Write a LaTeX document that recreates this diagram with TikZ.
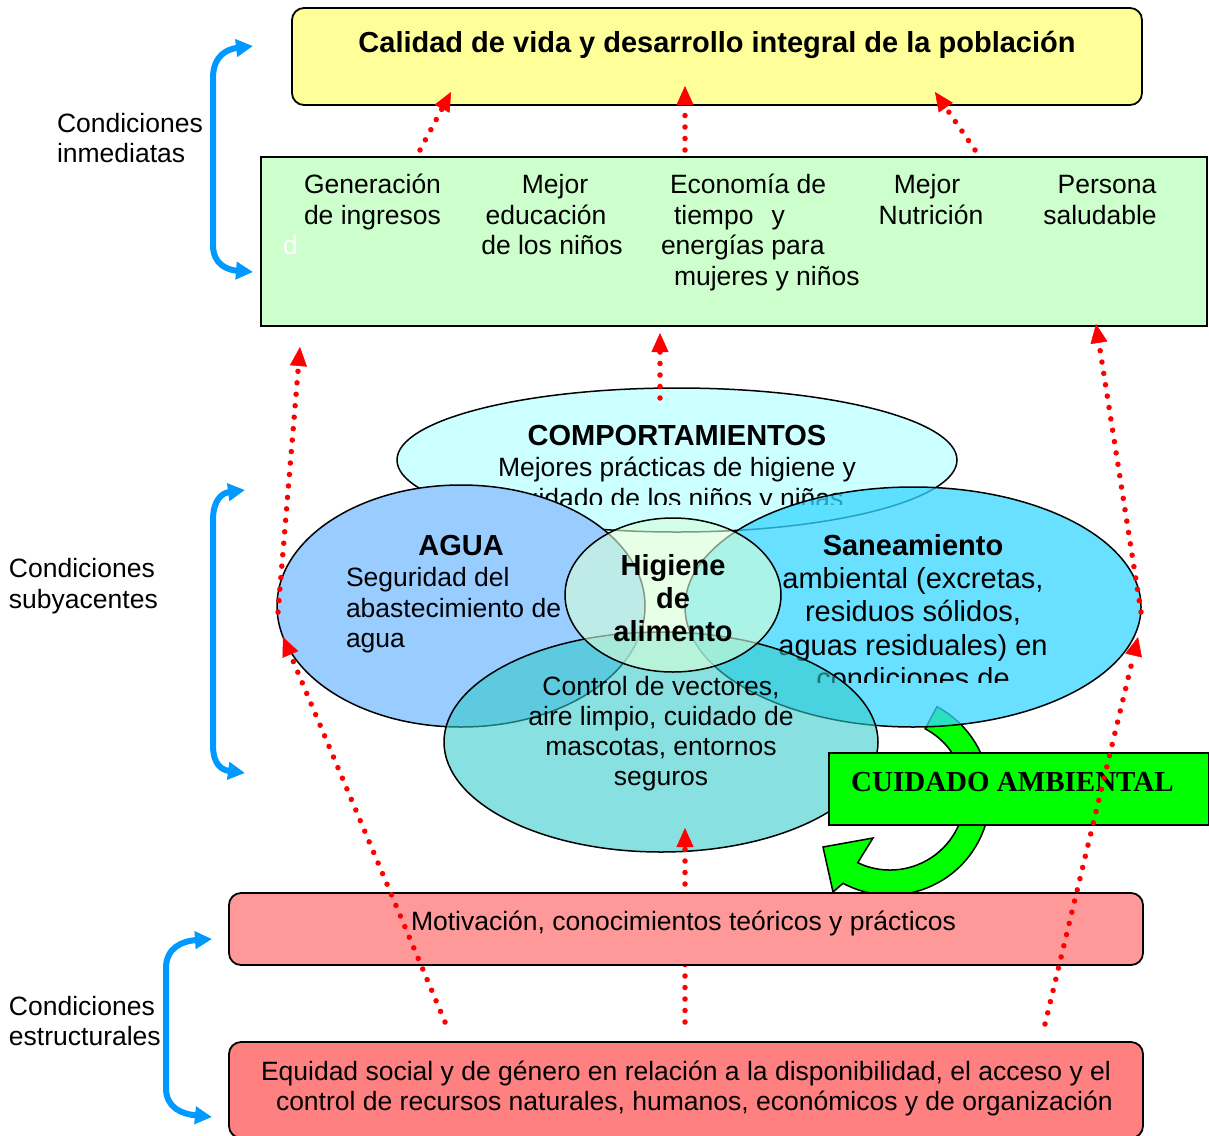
\documentclass[tikz,border=0pt]{standalone}
\usepackage{fontspec}
\setmainfont{Liberation Sans}
\newfontfamily\serifbf{Liberation Serif}
\usetikzlibrary{arrows.meta,shapes.geometric}
\newcommand\myfs[2]{\fontsize{#1}{#2}\selectfont}
\definecolor{ylw}{RGB}{255,255,153}
\definecolor{grnbox}{RGB}{204,255,204}
\definecolor{compc}{RGB}{204,255,255}
\definecolor{aguac}{RGB}{153,204,255}
\definecolor{sanc}{RGB}{55,214,255}
\definecolor{ctrlc}{RGB}{50,202,202}
\definecolor{higc}{RGB}{215,255,215}
\definecolor{pinka}{RGB}{255,153,153}
\definecolor{pinkb}{RGB}{255,128,128}
\definecolor{brblue}{RGB}{0,153,255}
\definecolor{arrgreen}{RGB}{0,255,0}
\begin{document}
\begin{tikzpicture}[x=1pt,y=-1pt,
  txt/.style={inner sep=0pt, outer sep=0pt, font=\myfs{26.5}{31}, anchor=base},
  txtw/.style={txt, anchor=base west},
  txtb/.style={inner sep=0pt, outer sep=0pt, font=\myfs{29}{33}, anchor=base},
  hd/.style={inner sep=0pt, outer sep=0pt, font=\myfs{29}{33}\bfseries, anchor=base},
  rbox/.style={draw=black, line width=1.8pt, rounded corners=12pt, inner sep=0pt},
  sbox/.style={draw=black, line width=1.8pt, inner sep=0pt},
  ell/.style={ellipse, draw=black, line width=1.5pt, inner sep=0pt},
  brk/.style={draw=brblue, line width=6pt, {Triangle[length=17pt,width=17pt]}-{Triangle[length=17pt,width=17pt]}},
  rdot/.style={draw=red, line width=5.5pt, line cap=round, dash pattern=on 0pt off 11.5pt, -{Triangle[length=19pt,width=17pt,line width=0.5pt]}}
]
\useasboundingbox (0,0) rectangle (1209,1135);

% ---------- top box
\node[rbox, fill=ylw, minimum width=850pt, minimum height=97pt] (top) at (717,56.5) {};
\node[hd] (title) at (717,52) {Calidad de vida y desarrollo integral de la población};

% ---------- immediate conditions box
\node[sbox, fill=grnbox, minimum width=946pt, minimum height=169pt] (imm) at (734,241.5) {};
\node[txtw] (g1a) at (304,193.5) {Generación};
\node[txtw] (g1b) at (304,224) {de ingresos};
\node[txtw, text=white] (g1c) at (283,254.5) {d};
\node[txt] (g2a) at (555,193.5) {Mejor};
\node[txt] (g2b) at (546,224) {educación};
\node[txt] (g2c) at (552,254.5) {de los niños};
\node[txtw] (g3a) at (670,193.5) {Economía de};
\node[txtw] (g3b) at (674,224) {tiempo\hspace{18pt}y};
\node[txtw] (g3c) at (661,254.5) {energías para};
\node[txtw] (g3d) at (674,285) {mujeres y niños};
\node[txt] (g4a) at (927,193.5) {Mejor};
\node[txt] (g4b) at (931,224) {Nutrición};
\node[txt] (g5a) at (1107,193.5) {Persona};
\node[txt] (g5b) at (1100,224) {saludable};

% ---------- green curved arrow (under saneamiento)
\draw[line width=1.5pt, fill=arrgreen, line join=miter]
  (936.9,706.7) arc[start angle=-62, end angle=118, radius=100]
  -- (833,892) -- (823,847) -- (873,838) -- (857.7,862.7)
  arc[start angle=115.5, end angle=-62, radius=75] -- cycle;

% ---------- ellipses
\node[ell, fill=compc, minimum width=560pt, minimum height=144pt] (comp) at (677,460) {};
\begin{scope}
  \clip (390,380) rectangle (970,504);
  \node[hd] (ct1) at (677,445) {COMPORTAMIENTOS};
  \node[txt] (ct2) at (677,476.5) {Mejores prácticas de higiene y};
  \node[txt] (ct3) at (677,507) {cuidado de los niños y niñas};
\end{scope}

\node[ell, fill=aguac, minimum width=368pt, minimum height=242pt] (agua) at (461,606) {};
\node[hd] (at1) at (461,555) {AGUA};
\node[txtw] (at2) at (346,586.5) {Seguridad del};
\node[txtw] (at3) at (346,617) {abastecimiento de};
\node[txtw] (at4) at (346,647) {agua};

\node[ell, fill=sanc, fill opacity=0.75, minimum width=456pt, minimum height=240pt] (san) at (913,607) {};
\node[hd] (st1) at (913,555) {Saneamiento};
\begin{scope}
  \clip (680,560) rectangle (1150,682);
  \node[txtb] (st2) at (913,588) {ambiental (excretas,};
  \node[txtb] (st3) at (913,621.5) {residuos sólidos,};
  \node[txtb] (st4) at (913,655) {aguas residuales) en};
  \node[txtb] (st5) at (913,688.5) {condiciones de};
\end{scope}

\node[ell, fill=ctrlc, fill opacity=0.58, minimum width=434pt, minimum height=220pt] (ctrl) at (661,742) {};

\node[ell, fill=higc, fill opacity=0.6, minimum width=216pt, minimum height=154pt] (hig) at (673,595) {};
\begin{scope}
  \clip (560,520) rectangle (790,643);
  \node[hd] (ht1) at (673,575) {Higiene};
  \node[hd] (ht2) at (673,608.5) {de};
  \node[hd] (ht3) at (673,641) {alimento};
\end{scope}

\node[txt] (kt1) at (661,695) {Control de vectores,};
\node[txt] (kt2) at (661,725) {aire limpio, cuidado de};
\node[txt] (kt3) at (661,755) {mascotas, entornos};
\node[txt] (kt4) at (661,785) {seguros};

% ---------- cuidado ambiental
\node[sbox, fill=arrgreen, minimum width=380pt, minimum height=72pt] (cuid) at (1019,789) {};
\node[inner sep=0pt, anchor=base west, font=\serifbf\bfseries\myfs{29}{33}] (cuidt) at (851,791) {CUIDADO AMBIENTAL};

% ---------- middle bottom arrow (behind box)
\coordinate (c3s) at (685,1022);
\coordinate (c3e) at (685,828);
\draw[rdot] (c3s) -- (c3e);

% ---------- structural boxes
\node[rbox, fill=pinka, minimum width=914pt, minimum height=72pt] (mot) at (686,929) {};
\node[txtw] (mott) at (411,930) {Motivación, conocimientos teóricos y prácticos};
\node[rbox, fill=pinkb, minimum width=914pt, minimum height=96pt] (equ) at (686,1090) {};
\node[txtw] (equa) at (261,1080) {Equidad social y de género en relación a la disponibilidad, el acceso y el};
\node[txtw] (equb) at (276,1110.5) {control de recursos naturales, humanos, económicos y de organización};

% ---------- red dotted arrows
\coordinate (a1s) at (420,150); \coordinate (a1e) at (451,92);
\coordinate (a2s) at (685,150); \coordinate (a2e) at (685,86);
\coordinate (a3s) at (975,150); \coordinate (a3e) at (935,92);
\coordinate (b1s) at (660,398); \coordinate (b1e) at (660,333);
\coordinate (b2s) at (278,612); \coordinate (b2e) at (300,347);
\coordinate (b3s) at (1141,612); \coordinate (b3e) at (1096,324);
\coordinate (c1s) at (445,1022); \coordinate (c1e) at (283,637);
\coordinate (c2s) at (1045,1024); \coordinate (c2e) at (1138,637);
\draw[rdot] (a1s) -- (a1e);
\draw[rdot] (a2s) -- (a2e);
\draw[rdot] (a3s) -- (a3e);
\draw[rdot] (b1s) -- (b1e);
\draw[rdot] (b2s) -- (b2e);
\draw[rdot] (b3s) -- (b3e);
\draw[rdot] (c1s) -- (c1e);
\draw[rdot] (c2s) -- (c2e);

% ---------- blue brackets and labels
\coordinate (k1t) at (253,46); \coordinate (k1b) at (253,272);
\coordinate (k2t) at (245,490); \coordinate (k2b) at (245,773);
\coordinate (k3t) at (212,939); \coordinate (k3b) at (212,1117);
\draw[brk] (k1t) .. controls (228,49) and (213,55) .. (213,78) -- (213,245) .. controls (213,265) and (228,270) .. (k1b);
\draw[brk] (k2t) .. controls (222,493) and (213,500) .. (213,520) -- (213,745) .. controls (213,765) and (222,770) .. (k2b);
\draw[brk] (k3t) .. controls (182,941) and (166,948) .. (166,968) -- (166,1088) .. controls (166,1108) and (182,1114) .. (k3b);

\node[txtw] (l1a) at (57,132) {Condiciones};
\node[txtw] (l1b) at (57,162) {inmediatas};
\node[txtw] (l2a) at (9,577.5) {Condiciones};
\node[txtw] (l2b) at (9,608) {subyacentes};
\node[txtw] (l3a) at (9,1015) {Condiciones};
\node[txtw] (l3b) at (9,1045) {estructurales};
\end{tikzpicture}
\end{document}
